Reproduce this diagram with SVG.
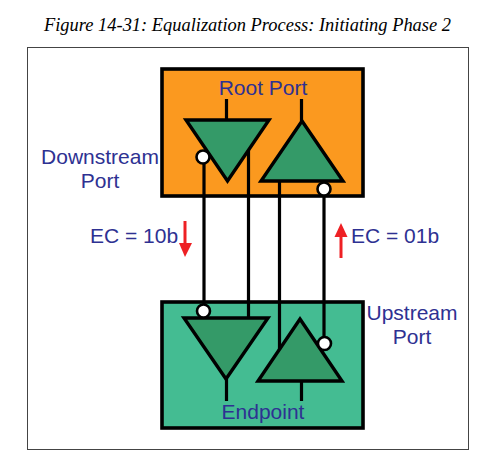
<svg xmlns="http://www.w3.org/2000/svg" width="491" height="458" viewBox="0 0 491 458">
<style>
.lbl{font-family:"Liberation Sans",Arial,sans-serif;font-size:21px;fill:#2E3192;text-anchor:middle}
.box{stroke:#000;stroke-width:3.6}
.tri{fill:#349A68;stroke:#000;stroke-width:3.4;stroke-linejoin:miter}
.wire{fill:none;stroke:#000;stroke-width:3.2}
.dot{fill:#fff;stroke:#000;stroke-width:2.6}
.red{fill:none;stroke:#EE2024;stroke-width:3}
</style>
<rect width="491" height="458" fill="#fff"/>
<text x="247.500" y="31" text-anchor="middle" font-family="'Liberation Serif',serif" font-style="italic" font-size="18px" fill="#000" textLength="407" lengthAdjust="spacingAndGlyphs">Figure 14-31: Equalization Process: Initiating Phase 2</text>
<rect id="frame" x="27.500" y="47.500" width="441" height="402" fill="#fff" stroke="#444" stroke-width="1"/>
<g id="root-port">
<rect class="box" x="162" y="69" width="201" height="127" fill="#FB991F"/>
<text class="lbl" x="263" y="95">Root Port</text>
</g>
<g id="endpoint">
<rect class="box" x="162" y="302" width="201" height="126" fill="#44BC92"/>
<text class="lbl" x="263" y="419">Endpoint</text>
</g>
<g id="connectors">
<path class="wire" d="M226.500 99V120M301.500 99V121M226.500 379V401M301.500 381V401"/>
</g>
<g id="root-tx"><polygon class="tri" points="186,120 269,120 227.500,181"/></g>
<g id="root-rx"><polygon class="tri" points="302,121 343,181 261,181"/></g>
<g id="ep-rx"><polygon class="tri" points="184,318 268,318 226,379"/></g>
<g id="ep-tx"><polygon class="tri" points="300,319 342,381 258,381"/></g>
<g id="wires">
<path class="wire" d="M204 157V311M248.500 150V318M279.500 181V350M324 189V343"/>
</g>
<g id="dots">
<circle class="dot" cx="203" cy="157" r="6.500"/>
<circle class="dot" cx="324" cy="189" r="6.500"/>
<circle class="dot" cx="203.500" cy="311" r="6.500"/>
<circle class="dot" cx="324.500" cy="343.500" r="6.500"/>
</g>
<g id="downstream-label">
<text class="lbl" x="100" y="164">Downstream</text>
<text class="lbl" x="100" y="188">Port</text>
</g>
<g id="upstream-label">
<text class="lbl" x="412" y="320">Upstream</text>
<text class="lbl" x="412" y="344">Port</text>
</g>
<g id="ec-down">
<text class="lbl" x="134" y="243">EC = 10b</text>
<path class="red" d="M185 221V246"/>
<polygon points="179,243 192,243 185,257" fill="#EE2024"/>
</g>
<g id="ec-up">
<text class="lbl" x="395" y="243">EC = 01b</text>
<path class="red" d="M341 258V234"/>
<polygon points="334.500,237 347.500,237 341,223" fill="#EE2024"/>
</g>
</svg>
